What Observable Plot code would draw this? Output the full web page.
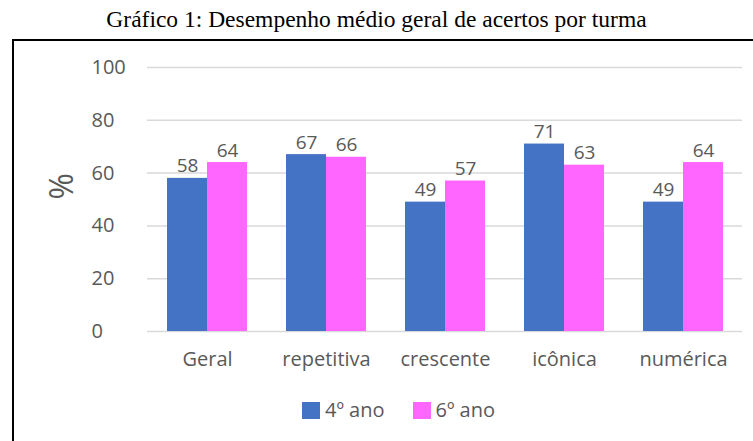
<!DOCTYPE html>
<html><head><meta charset="utf-8">
<script src="https://cdn.jsdelivr.net/npm/d3@7"></script>
<script src="https://cdn.jsdelivr.net/npm/@observablehq/plot@0.6"></script>
<style>
body{margin:0;background:#fff;}
#wrap{position:relative;width:753px;height:441px;overflow:hidden;font-family:"Open Sans",sans-serif;}
#title{position:absolute;top:5px;left:0;width:753px;text-align:center;font-family:"Liberation Serif","Times New Roman",serif;font-size:23.5px;color:#000;line-height:28px;}
#frame{position:absolute;left:12px;top:39px;width:800px;height:450px;border-left:2px solid #000;border-top:2px solid #000;}
#chart{position:absolute;left:0;top:0;}
#legend{position:absolute;top:398px;left:302px;display:flex;align-items:center;font-size:20px;line-height:24px;color:#595959;}
#legend .sw{width:18px;height:17px;display:inline-block;margin-right:5px;}
#legend .it{display:flex;align-items:center;margin-right:28px;}
</style></head>
<body>
<div id="wrap">
  <div id="title">Gráfico 1: Desempenho médio geral de acertos por turma</div>
  <div id="frame"></div>
  <div id="chart"></div>
  <div id="legend"></div>
</div>
<script>
const categories = ["Geral","repetitiva","crescente","icônica","numérica"];
const series = ["4º ano","6º ano"];
const ano4 = [58,67,49,71,49];
const ano6 = [64,66,57,63,64];
const yTicks = [0,20,40,60,80,100];
const colors = ["#4472C4","#FF66FF"];

const d4 = categories.map((c,i)=>({c, v: ano4[i]}));
const d6 = categories.map((c,i)=>({c, v: ano6[i]}));

const chart = Plot.plot({
  width: 753, height: 441,
  marginLeft: 147, marginRight: 11, marginTop: 67, marginBottom: 110,
  style: {fontFamily: '"Open Sans", sans-serif', color: "#595959", background: "transparent"},
  x: {domain: categories, paddingInner: 39/119, paddingOuter: 19.5/119, axis: null},
  y: {domain: [0,100], axis: null},
  marks: [
    Plot.ruleY(yTicks, {stroke: "#d9d9d9", strokeWidth: 1.5}),
    Plot.axisY(yTicks, {tickSize: 0, textAnchor: "start", dx: -47, fontSize: 20, label: null}),
    Plot.axisX({tickSize: 0, tickPadding: 20, fontSize: 20, label: null}),
    Plot.barY(d4, {x: "c", y: "v", fill: colors[0], insetLeft: 0, insetRight: 40}),
    Plot.barY(d6, {x: "c", y: "v", fill: colors[1], insetLeft: 40, insetRight: 0}),
    Plot.text(d4, {x: "c", y: "v", text: "v", dx: -20, dy: -12, fontSize: 19, fill: "#595959"}),
    Plot.text(d6, {x: "c", y: "v", text: "v", dx: 20, dy: -12, fontSize: 19, fill: "#595959"}),
    Plot.text(["%"], {frameAnchor: "left", rotate: -90, dx: -85, fontSize: 32, fill: "#595959"})
  ]
});
document.getElementById("chart").appendChild(chart);

const leg = document.getElementById("legend");
series.forEach((s,i)=>{
  const it = document.createElement("span"); it.className = "it";
  const sw = document.createElement("span"); sw.className = "sw"; sw.style.background = colors[i];
  it.appendChild(sw); it.appendChild(document.createTextNode(s));
  leg.appendChild(it);
});
</script>
</body></html>
